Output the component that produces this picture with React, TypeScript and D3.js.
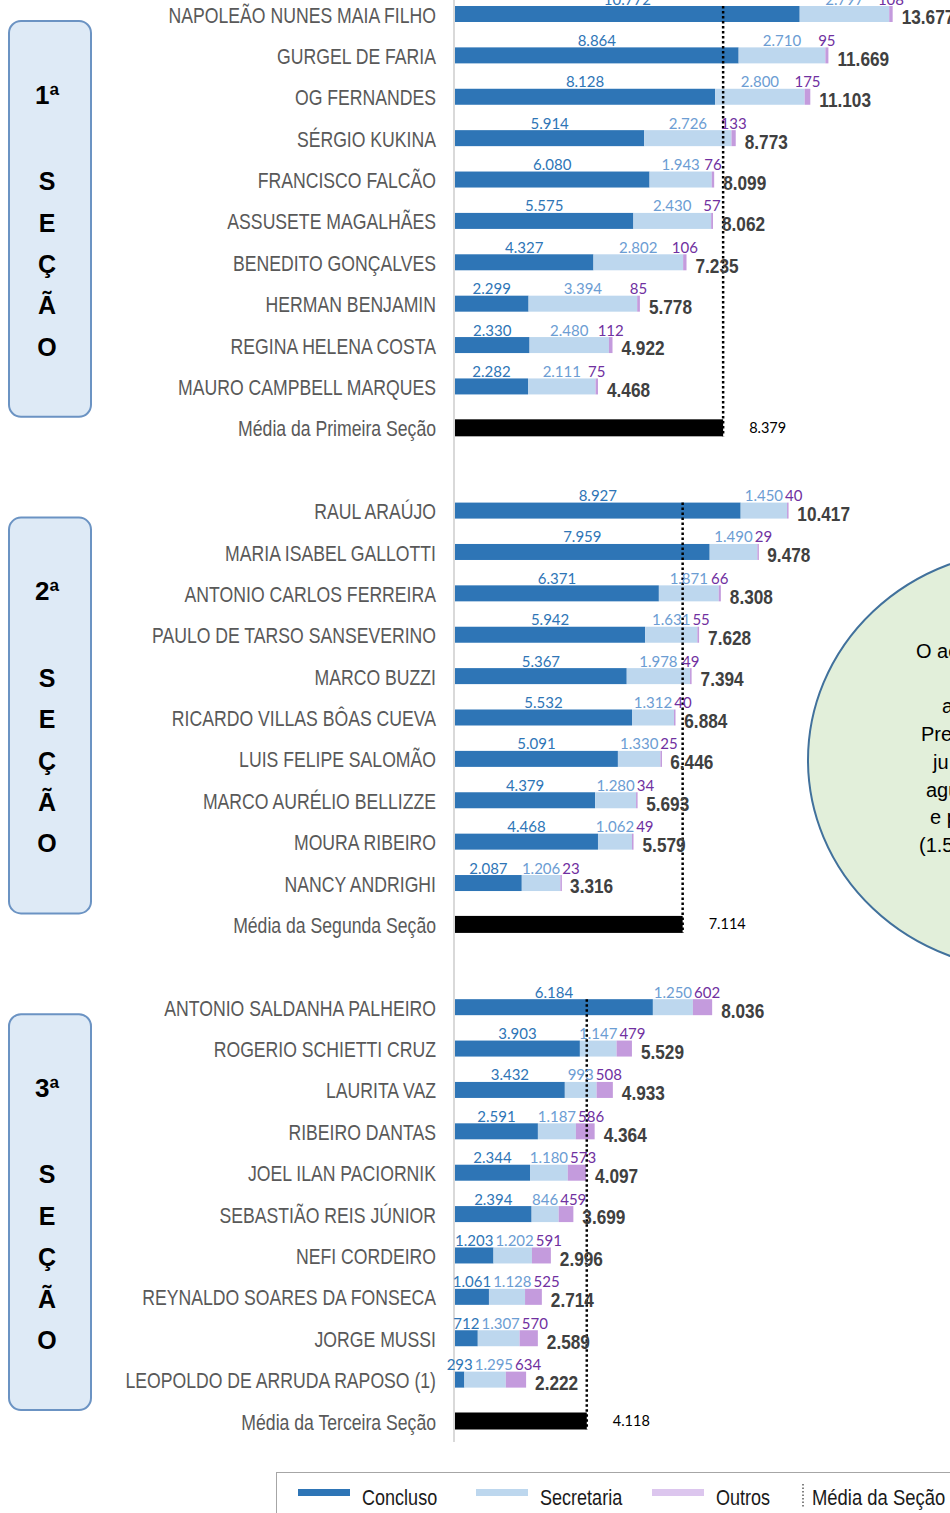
import React, { useEffect, useRef } from "react";
import * as d3 from "d3";

// --- data ---
const sectionOrdinals = ["1ª", "2ª", "3ª"];
const meanLabels = ["Média da Primeira Seção", "Média da Segunda Seção", "Média da Terceira Seção"];
const sectionMeans = [8379, 7114, 4118];

const sec1Names = ["NAPOLEÃO NUNES MAIA FILHO", "GURGEL DE FARIA", "OG FERNANDES", "SÉRGIO KUKINA", "FRANCISCO FALCÃO",
    "ASSUSETE MAGALHÃES", "BENEDITO GONÇALVES", "HERMAN BENJAMIN", "REGINA HELENA COSTA", "MAURO CAMPBELL MARQUES"];
const sec1Concluso = [10772, 8864, 8128, 5914, 6080, 5575, 4327, 2299, 2330, 2282];
const sec1Secretaria = [2797, 2710, 2800, 2726, 1943, 2430, 2802, 3394, 2480, 2111];
const sec1Outros = [108, 95, 175, 133, 76, 57, 106, 85, 112, 75];

const sec2Names = ["RAUL ARAÚJO", "MARIA ISABEL GALLOTTI", "ANTONIO CARLOS FERREIRA", "PAULO DE TARSO SANSEVERINO", "MARCO BUZZI",
    "RICARDO VILLAS BÔAS CUEVA", "LUIS FELIPE SALOMÃO", "MARCO AURÉLIO BELLIZZE", "MOURA RIBEIRO", "NANCY ANDRIGHI"];
const sec2Concluso = [8927, 7959, 6371, 5942, 5367, 5532, 5091, 4379, 4468, 2087];
const sec2Secretaria = [1450, 1490, 1871, 1631, 1978, 1312, 1330, 1280, 1062, 1206];
const sec2Outros = [40, 29, 66, 55, 49, 40, 25, 34, 49, 23];

const sec3Names = ["ANTONIO SALDANHA PALHEIRO", "ROGERIO SCHIETTI CRUZ", "LAURITA VAZ", "RIBEIRO DANTAS", "JOEL ILAN PACIORNIK",
    "SEBASTIÃO REIS JÚNIOR", "NEFI CORDEIRO", "REYNALDO SOARES DA FONSECA", "JORGE MUSSI", "LEOPOLDO DE ARRUDA RAPOSO (1)"];
const sec3Concluso = [6184, 3903, 3432, 2591, 2344, 2394, 1203, 1061, 712, 293];
const sec3Secretaria = [1250, 1147, 993, 1187, 1180, 846, 1202, 1128, 1307, 1295];
const sec3Outros = [602, 479, 508, 586, 573, 459, 591, 525, 570, 634];

const legendLabels = ["Concluso", "Secretaria", "Outros", "Média da Seção"];
const calloutLines = ["O ac", "", "a", "Pre", "ju", "agu", "e p", "(1.5"];

interface Row {
    key: string;
    sec: number;
    name: string;
    c: number;
    s: number;
    o: number;
}

const C_CONCLUSO = "#2E75B6";
const C_SECRETARIA = "#BDD7EE";
const C_OUTROS = "#C49BDD";
const ARIAL = "'Liberation Sans', Arial, sans-serif";
const CALIBRI = "Lato, 'Open Sans', sans-serif";
const NARROW_X = 0.82; // Arial Narrow ~ Arial squeezed horizontally

const App: React.FC = () => {
    const svgRef = useRef<SVGSVGElement | null>(null);

    useEffect(() => {
        if (!svgRef.current) return;
        const W = 950, H = 1513;
        const svg = d3.select(svgRef.current).attr("width", W).attr("height", H);
        svg.selectAll("*").remove();

        const fmt = d3.formatLocale({ decimal: ",", thousands: ".", grouping: [3], currency: ["", ""] }).format(",d");

        // narrow text helper
        const narrow = (g: d3.Selection<any, any, any, any>, x: number, y: number, txt: string, size: number,
                        color: string, anchor = "start", bold = false) =>
            g.append("text")
                .attr("transform", `translate(${x},${y}) scale(${NARROW_X},1)`)
                .attr("dy", "0.35em")
                .attr("text-anchor", anchor)
                .style("font-family", ARIAL)
                .style("font-size", `${size}px`)
                .style("font-weight", bold ? "bold" : "normal")
                .attr("fill", color)
                .text(txt);

        const names = [sec1Names, sec2Names, sec3Names];
        const conc = [sec1Concluso, sec2Concluso, sec3Concluso];
        const secr = [sec1Secretaria, sec2Secretaria, sec3Secretaria];
        const outr = [sec1Outros, sec2Outros, sec3Outros];

        const rows: Row[] = [];
        const keys: string[] = [];
        names.forEach((list, si) => {
            list.forEach((n, i) => {
                const r = { key: `s${si}-${i}`, sec: si, name: n, c: conc[si][i], s: secr[si][i], o: outr[si][i] };
                rows.push(r);
                keys.push(r.key);
            });
            keys.push(`s${si}-mean`);
            if (si < 2) keys.push(`gap${si}`);
        });

        const y = d3.scalePoint<string>().domain(keys).range([14, 1421]);
        const x = d3.scaleLinear().domain([0, 14000]).range([455, 903]);
        const barH = 16;

        // section boxes on the left
        const boxes = svg.append("g");
        sectionOrdinals.forEach((ord, si) => {
            const top = y(`s${si}-0`)! + 7;
            const bottom = y(`s${si}-mean`)! - 11;
            boxes.append("rect")
                .attr("x", 9).attr("y", top)
                .attr("width", 82).attr("height", bottom - top)
                .attr("rx", 12)
                .attr("fill", "#DEEAF6")
                .attr("stroke", "#6B93C3")
                .attr("stroke-width", 2);
            boxes.append("text")
                .attr("x", 47).attr("y", y(`s${si}-2`)! - 2)
                .attr("dy", "0.35em")
                .attr("text-anchor", "middle")
                .style("font-family", ARIAL).style("font-weight", "bold").style("font-size", "26px")
                .text(ord);
            ["S", "E", "Ç", "Ã", "O"].forEach((ch, k) => {
                boxes.append("text")
                    .attr("x", 47).attr("y", y(`s${si}-${k + 4}`)! + 2)
                    .attr("dy", "0.35em")
                    .attr("text-anchor", "middle")
                    .style("font-family", ARIAL).style("font-weight", "bold").style("font-size", "25px")
                    .text(ch);
            });
        });

        // vertical axis line
        svg.append("line")
            .attr("x1", 454).attr("x2", 454)
            .attr("y1", 0).attr("y2", 1442)
            .attr("stroke", "#D9D9D9").attr("stroke-width", 2);

        // name labels
        const nameG = svg.append("g");
        rows.forEach(d => narrow(nameG, 436, y(d.key)! + 1, d.name, 21.5, "#595959", "end"));
        meanLabels.forEach((m, si) => narrow(nameG, 436, y(`s${si}-mean`)! + 1, m, 21.5, "#595959", "end"));

        // stacked bars
        const bars = svg.append("g");
        const segs = [
            { get: (d: Row) => [0, d.c], color: C_CONCLUSO },
            { get: (d: Row) => [d.c, d.c + d.s], color: C_SECRETARIA },
            { get: (d: Row) => [d.c + d.s, d.c + d.s + d.o], color: C_OUTROS },
        ];
        segs.forEach(sg => {
            bars.selectAll(null)
                .data(rows)
                .enter()
                .append("rect")
                .attr("x", d => x(sg.get(d)[0]))
                .attr("y", d => y(d.key)! - barH / 2)
                .attr("width", d => Math.max(1.5, x(sg.get(d)[1]) - x(sg.get(d)[0])))
                .attr("height", barH)
                .attr("fill", sg.color);
        });

        // mean bars + labels + dotted lines
        sectionMeans.forEach((m, si) => {
            const cy = y(`s${si}-mean`)!;
            svg.append("rect")
                .attr("x", x(0)).attr("y", cy - 8.5)
                .attr("width", x(m) - x(0)).attr("height", 17)
                .attr("fill", "#000");
            svg.append("text")
                .attr("x", x(m) + 26).attr("y", cy)
                .attr("dy", "0.35em")
                .style("font-family", CALIBRI).style("font-size", "14.5px")
                .attr("fill", "#000")
                .text(fmt(m));
            svg.append("line")
                .attr("x1", x(m)).attr("x2", x(m))
                .attr("y1", y(`s${si}-0`)! - barH / 2)
                .attr("y2", cy + 8.5)
                .attr("stroke", "#000")
                .attr("stroke-width", 2.5)
                .attr("stroke-dasharray", "2.5 2.5");
        });

        // value labels above segments, nudged right so they don't collide
        const labelSpecs = [
            { pos: (d: Row) => (x(0) + x(d.c)) / 2, val: (d: Row) => d.c, color: "#2E75B6" },
            { pos: (d: Row) => (x(d.c) + x(d.c + d.s)) / 2, val: (d: Row) => d.s, color: "#6C9DD3" },
            { pos: (d: Row) => (x(d.c + d.s) + x(d.c + d.s + d.o)) / 2, val: (d: Row) => d.o, color: "#7030A0" },
        ];
        const valG = svg.append("g");
        rows.forEach(d => {
            let prevRight = -Infinity;
            labelSpecs.forEach(ls => {
                const t = valG.append("text")
                    .attr("y", y(d.key)! - barH / 2 - 1.5)
                    .attr("text-anchor", "start")
                    .style("font-family", CALIBRI).style("font-size", "15px")
                    .attr("fill", ls.color)
                    .text(fmt(ls.val(d)));
                const w = (t.node() as SVGTextElement).getComputedTextLength();
                let left = ls.pos(d) - w / 2;
                if (left < prevRight + 2) left = prevRight + 2;
                t.attr("x", left);
                prevRight = left + w;
            });
        });

        // totals
        const totG = svg.append("g");
        rows.forEach(d => {
            const tot = d.c + d.s + d.o;
            narrow(totG, x(tot) + 9, y(d.key)! + 3, fmt(tot), 21, "#404040", "start", true);
        });

        // callout ellipse on the right (cut by the page edge)
        const ell = svg.append("g");
        ell.append("ellipse")
            .attr("cx", 1030).attr("cy", 760)
            .attr("rx", 222).attr("ry", 210)
            .attr("fill", "#E2EFDA")
            .attr("stroke", "#41719C")
            .attr("stroke-width", 2);
        const lineStarts = [916, 0, 942, 921, 933, 926, 930, 919];
        calloutLines.forEach((t, i) => {
            if (!t) return;
            ell.append("text")
                .attr("x", lineStarts[i])
                .attr("y", 651 + i * 27.7)
                .attr("dy", "0.35em")
                .style("font-family", ARIAL).style("font-size", "20px")
                .attr("fill", "#000")
                .text(t);
        });

        // legend
        const lg = svg.append("g");
        lg.append("rect")
            .attr("x", 276.5).attr("y", 1472.5)
            .attr("width", 700).attr("height", 60)
            .attr("fill", "#fff")
            .attr("stroke", "#A6A6A6");
        const swX = [298, 476, 652];
        const swC = [C_CONCLUSO, C_SECRETARIA, "#DCC6EE"];
        swX.forEach((sx, i) => {
            lg.append("rect")
                .attr("x", sx).attr("y", 1489)
                .attr("width", 52).attr("height", 7)
                .attr("fill", swC[i]);
            narrow(lg, sx + 64, 1497, legendLabels[i], 22, "#1a1a1a");
        });
        lg.append("line")
            .attr("x1", 803).attr("x2", 803)
            .attr("y1", 1484).attr("y2", 1507)
            .attr("stroke", "#595959")
            .attr("stroke-width", 1.5)
            .attr("stroke-dasharray", "1.5 2");
        narrow(lg, 812, 1497, legendLabels[3], 22.5, "#1a1a1a");
    }, []);

    return (
        <div style={{ position: "absolute", left: 0, top: 0, width: 950, height: 1513, overflow: "hidden", background: "#fff" }}>
            <svg ref={svgRef}></svg>
        </div>
    );
};

export default App;
